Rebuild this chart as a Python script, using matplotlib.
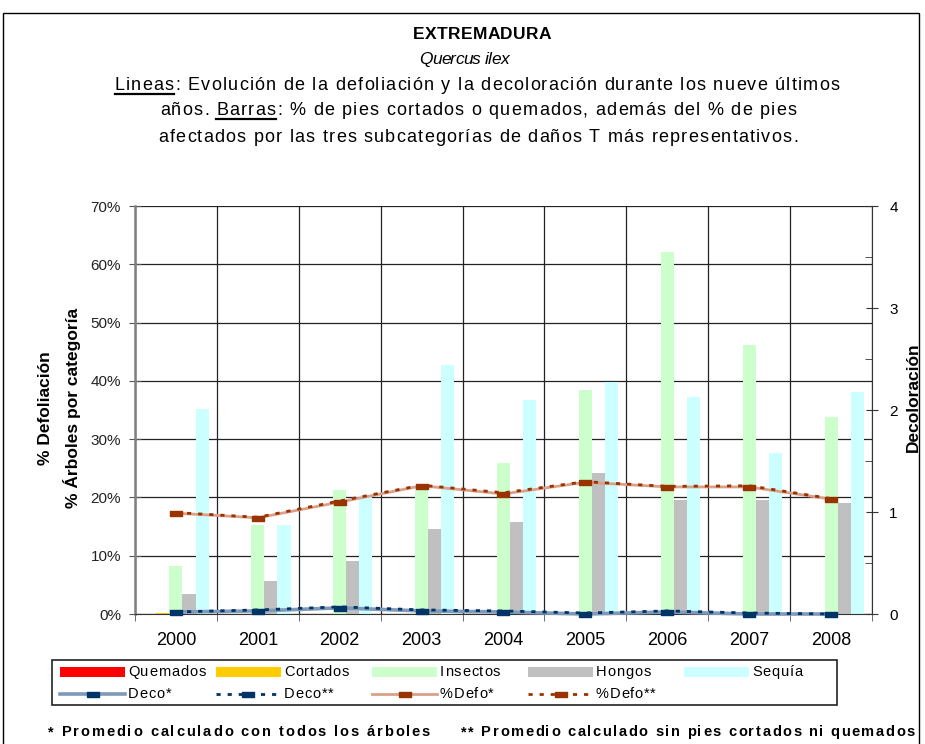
import matplotlib
matplotlib.use("Agg")
import matplotlib.pyplot as plt
import numpy as np
from matplotlib.patches import Rectangle
from matplotlib.lines import Line2D
from matplotlib.font_manager import FontProperties, findfont
from matplotlib.ft2font import FT2Font

plt.rcParams['font.family'] = ['Liberation Sans', 'DejaVu Sans']

years = ['2000', '2001', '2002', '2003', '2004', '2005', '2006', '2007', '2008']
quemados = [0, 0, 0, 0, 0, 0, 0, 0, 0]
cortados = [0.15, 0, 0, 0, 0, 0, 0, 0, 0]
insectos = [8.2, 15.3, 21.3, 22.0, 25.9, 38.4, 62.1, 46.1, 33.8]
hongos = [3.4, 5.7, 9.1, 14.6, 15.8, 24.2, 19.6, 19.6, 19.0]
sequia = [35.2, 15.3, 20.4, 42.7, 36.7, 39.8, 37.2, 27.6, 38.1]
defo1 = [17.3, 16.5, 19.2, 22.0, 20.6, 22.6, 21.8, 21.8, 19.7]
defo2 = [17.4, 16.6, 19.4, 22.1, 20.8, 22.7, 21.9, 22.0, 19.8]
deco1 = [0.02, 0.03, 0.06, 0.03, 0.02, 0.0, 0.02, 0.0, 0.0]
deco2 = [0.02, 0.04, 0.07, 0.04, 0.03, 0.01, 0.03, 0.01, 0.0]

bar_names = ['Quemados', 'Cortados', 'Insectos', 'Hongos', 'Sequía']
line_names = ['Deco*', 'Deco**', '%Defo*', '%Defo**']
bar_colors = ['#FF0000', '#FFCC00', '#CCFFCC', '#C0C0C0', '#CCFFFF']

W, H = 925, 744
fig = plt.figure(figsize=(W / 100, H / 100), dpi=100)
renderer = fig.canvas.get_renderer()


def fx(px):
    return px / W


def fy(py):
    return 1 - py / H


def advances(s, fs, weight='normal', style='normal'):
    fp = FontProperties(family=['Liberation Sans'], weight=weight, style=style, size=fs)
    f = FT2Font(findfont(fp), hinting_factor=1)
    f.set_size(fs, 100)
    adv = [f.load_char(ord(c)).linearHoriAdvance / 65536 for c in s]
    ns = s.strip()
    t = fig.text(0, 0, ns, fontsize=fs, fontweight=weight, style=style)
    wr = t.get_window_extent(renderer).width
    t.remove()
    i0 = len(s) - len(s.lstrip())
    tot = sum(adv[i0:i0 + len(ns)])
    if tot > 0:
        k = wr / tot
        adv = [a * k for a in adv]
    return adv


def spaced(x, ybase, s, fs, weight='normal', style='normal', sp=None,
           target=None, ha='center', color='black'):
    adv = advances(s, fs, weight, style)
    n = len(s)
    nat = sum(adv)
    if target is not None:
        sp = (target - nat) / (n - 1)
    if sp is None:
        sp = 0
    total = nat + sp * (n - 1)
    if ha == 'center':
        x0 = x - total / 2
    elif ha == 'right':
        x0 = x - total
    else:
        x0 = x
    pos = []
    cx = x0
    for c, a in zip(s, adv):
        pos.append(cx)
        if c != ' ':
            fig.text(fx(cx), fy(ybase), c, fontsize=fs, fontweight=weight,
                     style=style, ha='left', va='baseline', color=color)
        cx += a + sp
    return pos, adv, sp


# outer frame
fig.patches.append(Rectangle((fx(3), -0.05), (919 - 3) / W, 1.05 - 13 / H,
                             transform=fig.transFigure, fill=False,
                             edgecolor='black', linewidth=1.0))

ax = fig.add_axes([fx(135), fy(614), (872 - 135) / W, (614 - 206) / H])
x = np.arange(len(years))
bw = 0.16
series = [quemados, cortados, insectos, hongos, sequia]
for i, (vals, col, name) in enumerate(zip(series, bar_colors, bar_names)):
    ax.bar(x + (i - 2) * bw, vals, width=bw, color=col, label=name,
           zorder=2, linewidth=0)

ax.set_xlim(-0.5, len(years) - 0.5)
ax.set_ylim(0, 70)
ax.set_yticks(np.arange(0, 71, 10))
ax.set_yticklabels([f'{v}%' for v in range(0, 71, 10)], fontsize=11, color='#222222')
ax.set_xticks(x)
ax.set_xticklabels(years, fontsize=13)
ax.set_xticks(np.arange(-0.5, len(years), 1), minor=True)
ax.tick_params(axis='x', which='major', length=0, pad=13)
ax.tick_params(axis='x', which='minor', length=5, direction='out', color='#555555')
ax.tick_params(axis='y', which='major', length=8, direction='inout', color='#555555', pad=6)
ax.grid(True, axis='y', color='#222222', linewidth=0.9, zorder=1)
ax.grid(True, axis='x', which='minor', color='#222222', linewidth=0.9, zorder=1)
for s in ['top', 'right']:
    ax.spines[s].set_visible(False)
ax.spines['left'].set_color('#808080')
ax.spines['left'].set_linewidth(1.8)
ax.spines['bottom'].set_color('#333333')
ax.set_axisbelow(True)

marker_rect = [(-1, -0.45), (1, -0.45), (1, 0.45), (-1, 0.45), (-1, -0.45)]
dotted = (0, (1.5, 2.5))

ax.plot(x, defo1, color='#D9A08A', linewidth=2.0, marker=marker_rect,
        markersize=8, markerfacecolor='#993300', markeredgecolor='#993300', zorder=4)
ax.plot(x, defo2, color='#993300', linewidth=2.0, linestyle=dotted, zorder=5)

ax2 = ax.twinx()
ax2.set_ylim(0, 4)
ax2.set_yticks([0, 1, 2, 3, 4])
ax2.set_yticks(np.arange(0, 4.01, 0.5), minor=True)
ax2.tick_params(axis='y', which='major', length=9, direction='inout', labelsize=11,
                color='#333333', pad=8)
ax2.tick_params(axis='y', which='minor', length=5, direction='in', color='#333333')
for s in ['top', 'left', 'bottom']:
    ax2.spines[s].set_visible(False)
ax2.spines['right'].set_color('#333333')
ax2.plot(x, deco1, color='#7F99B8', linewidth=2.6, marker=marker_rect,
         markersize=8, markerfacecolor='#003366', markeredgecolor='#003366',
         zorder=4, clip_on=False)
ax2.plot(x, deco2, color='#003366', linewidth=2.0, linestyle=dotted,
         zorder=5, clip_on=False)

fig.text(fx(913), fy(397), 'Decoloración', rotation=90, ha='center', va='center',
         fontsize=12.5, fontweight='bold')
fig.text(fx(46), fy(408), '% Defoliación', rotation=90, ha='center', va='center',
         fontsize=12.5, fontweight='bold')
fig.text(fx(72), fy(408), '% Árboles por categoría', rotation=90, ha='center', va='center',
         fontsize=12.5, fontweight='bold')

# Titles
spaced(482, 39, 'EXTREMADURA', 12.5, weight='bold', target=139)
spaced(464, 64, 'Quercus ilex', 12.5, style='italic', target=90)
l1 = 'Lineas: Evolución de la defoliación y la decoloración durante los nueve últimos'
pos, adv, sp = spaced(477, 90, l1, 13, target=725)
x_end = pos[5] + adv[5]
fig.add_artist(Line2D([fx(pos[0]), fx(x_end)], [fy(94), fy(94)], color='black', linewidth=1.6))
l2 = 'años. Barras: % de pies cortados o quemados, además del % de pies'
pos, adv, sp = spaced(478, 115, l2, 13, sp=sp)
fig.add_artist(Line2D([fx(pos[6]), fx(pos[11] + adv[11])], [fy(119), fy(119)],
                      color='black', linewidth=1.6))
l3 = 'afectados por las tres subcategorías de daños T más representativos.'
spaced(478, 142, l3, 13, sp=sp)

# Manual legend (Excel style, equal columns)
fig.patches.append(Rectangle((fx(52), fy(705)), 785 / W, 45 / H, transform=fig.transFigure,
                             fill=False, edgecolor='#222222', linewidth=1.2))
pitch = 156
for i, (name, col) in enumerate(zip(bar_names, bar_colors)):
    px0 = 60 + pitch * i
    fig.patches.append(Rectangle((fx(px0), fy(677)), 65 / W, 10 / H, transform=fig.transFigure,
                                 facecolor=col, edgecolor='none'))
    spaced(px0 + 68, 676, name, 10.5, sp=0.8, ha='left')

line_styles = [
    dict(color='#7F99B8', linewidth=2.6, linestyle='-', mcol='#003366'),
    dict(color='#003366', linewidth=2.0, linestyle=dotted, mcol='#003366'),
    dict(color='#D9A08A', linewidth=2.0, linestyle='-', mcol='#993300'),
    dict(color='#993300', linewidth=2.0, linestyle=dotted, mcol='#993300'),
]
for i, (name, st) in enumerate(zip(line_names, line_styles)):
    px0 = 60 + pitch * i
    yy = fy(694)
    fig.add_artist(Line2D([fx(px0), fx(px0 + 65)], [yy, yy], color=st['color'],
                          linewidth=st['linewidth'], linestyle=st['linestyle']))
    fig.add_artist(Line2D([fx(px0 + 32.5)], [yy], marker=marker_rect, markersize=8,
                          markerfacecolor=st['mcol'], markeredgecolor=st['mcol'],
                          linestyle='none'))
    spaced(px0 + 68, 698, name, 10.5, sp=0.8, ha='left')

spaced(48, 736, '* Promedio calculado con todos los árboles', 10.5, weight='bold',
       target=382, ha='left')
spaced(915, 736, '** Promedio calculado sin pies cortados ni quemados', 10.5, weight='bold',
       target=454, ha='right')

fig.savefig('out.png', dpi=100)
